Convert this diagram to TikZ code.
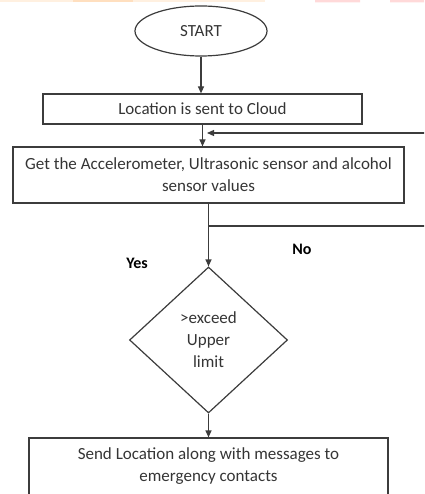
\documentclass[tikz,border=0pt]{standalone}
\usepackage{fontspec}
\setmainfont{Carlito}
\usetikzlibrary{shapes.geometric,arrows.meta}
\definecolor{inkgray}{HTML}{3C3C3C}
\definecolor{textgray}{HTML}{353535}
\begin{document}
\begin{tikzpicture}[x=1pt,y=-1pt,
    line width=1.2pt,draw=inkgray,
    font=\fontsize{17}{22}\selectfont,
    flowbox/.style={draw=inkgray,rectangle,inner sep=0pt,text=textgray,align=center},
    flowarrow/.style={draw=inkgray,-{Triangle[width=6pt,length=7pt]}},
    branchlabel/.style={text=black,font=\fontsize{16}{20}\selectfont\bfseries}]
    \useasboundingbox (0,0) rectangle (424,494);
    \clip (0,0) rectangle (424,494);
    % faint bands along the top edge
    \fill[fill=orange!12,draw=none] (0,0) rectangle (265,2.5);
    \fill[fill=orange!25,draw=none] (73,0) rectangle (133,2.5);
    \fill[fill=red!15,draw=none] (315,0) rectangle (360,2.5) (390,0) rectangle (424,2.5);
    \node[flowbox,ellipse,minimum width=132pt,minimum height=50pt] (start) at (201,31) {START};
    \node[flowbox,minimum width=319pt,minimum height=30pt] (cloud) at (202.5,109) {Location is sent to Cloud};
    \node[flowbox,minimum width=391pt,minimum height=56pt] (sensors) at (208.5,175)
        {Get the Accelerometer, Ultrasonic sensor and alcohol\\sensor values};
    \node[flowbox,diamond,minimum width=158pt,minimum height=146pt] (limit) at (208.5,340)
        {>exceed\\Upper\\limit};
    \node[flowbox,minimum width=359pt,minimum height=57pt] (send) at (208.5,466.5)
        {Send Location along with messages to\\emergency contacts};
    \node[branchlabel] (yes) at (137,263) {Yes};
    \node[branchlabel] (no) at (302,249) {No};
    \coordinate (nojoin) at (208.5,226);
    \coordinate (backin) at (207,133);
    \draw[flowarrow] (start.south) -- (start.south |- cloud.north);
    \draw[flowarrow] (cloud.south) -- (cloud.south |- sensors.north);
    \draw[flowarrow] (sensors.south) -- (limit.north);
    \draw[flowarrow] (limit.south) -- (send.north);
    \draw[flowarrow] (nojoin) -- (430,226) -- (430,133) -- (backin);
\end{tikzpicture}
\end{document}
